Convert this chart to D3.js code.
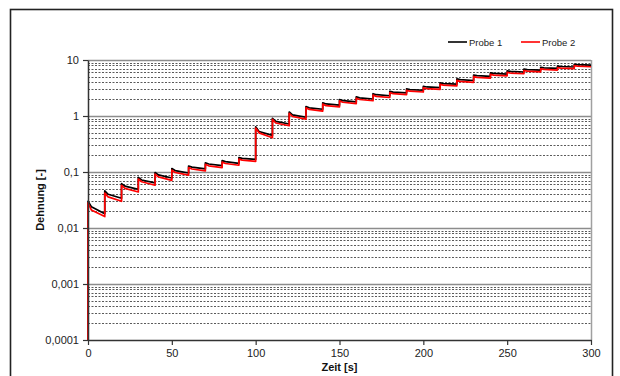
<!DOCTYPE html>
<html>
<head>
<meta charset="utf-8">
<script src="https://cdn.jsdelivr.net/npm/d3@7"></script>
<style>
  html, body { margin: 0; padding: 0; background: #fff; }
  svg { display: block; font-family: "Liberation Sans", Arial, sans-serif; }
</style>
</head>
<body>
<svg id="chart"></svg>
<script>
// Zeitpunkte (Sprung, +2 s, Ende der Stufe)
const zeit = [0,
  0, 2, 10, 10, 12, 20, 20, 22, 30, 30, 32, 40, 40, 42, 50,
  50, 52, 60, 60, 62, 70, 70, 72, 80, 80, 82, 90, 90, 92, 100,
  100, 102, 110, 110, 112, 120, 120, 122, 130, 130, 132, 140, 140, 142, 150,
  150, 152, 160, 160, 162, 170, 170, 172, 180, 180, 182, 190, 190, 192, 200,
  200, 202, 210, 210, 212, 220, 220, 222, 230, 230, 232, 240, 240, 242, 250,
  250, 252, 260, 260, 262, 270, 270, 272, 280, 280, 282, 290, 290, 292, 300];

const probe1 = [0.0001,
  0.030, 0.024, 0.018, 0.046, 0.040, 0.034, 0.062, 0.056, 0.049,
  0.080, 0.072, 0.064, 0.098, 0.089, 0.078,
  0.115, 0.106, 0.096, 0.128, 0.122, 0.114, 0.146, 0.139, 0.130,
  0.160, 0.153, 0.143, 0.180, 0.175, 0.168,
  0.64, 0.53, 0.45, 0.91, 0.80, 0.72, 1.18, 1.05, 0.95,
  1.47, 1.40, 1.32, 1.72, 1.64, 1.56,
  1.97, 1.88, 1.79, 2.20, 2.11, 2.01, 2.50, 2.40, 2.30,
  2.76, 2.67, 2.58, 3.05, 2.96, 2.88,
  3.40, 3.30, 3.20, 3.90, 3.80, 3.70, 4.60, 4.45, 4.30,
  5.40, 5.25, 5.10, 5.90, 5.75, 5.60,
  6.40, 6.25, 6.10, 6.90, 6.75, 6.60, 7.40, 7.25, 7.10,
  7.80, 7.65, 7.50, 8.40, 8.25, 8.10];

const probe2 = [0.0001,
  0.028, 0.021, 0.016, 0.042, 0.036, 0.030, 0.058, 0.051, 0.044,
  0.075, 0.067, 0.058, 0.092, 0.082, 0.071,
  0.108, 0.098, 0.088, 0.120, 0.113, 0.105, 0.137, 0.129, 0.120,
  0.150, 0.142, 0.132, 0.170, 0.163, 0.155,
  0.61, 0.50, 0.41, 0.87, 0.75, 0.67, 1.12, 0.98, 0.88,
  1.40, 1.31, 1.22, 1.63, 1.53, 1.45,
  1.86, 1.76, 1.66, 2.08, 1.97, 1.87, 2.36, 2.24, 2.14,
  2.61, 2.50, 2.40, 2.88, 2.77, 2.68,
  3.20, 3.08, 2.98, 3.68, 3.55, 3.45, 4.32, 4.15, 4.00,
  5.08, 4.90, 4.75, 5.55, 5.38, 5.22,
  6.02, 5.85, 5.68, 6.50, 6.32, 6.15, 6.98, 6.80, 6.62,
  7.35, 7.18, 7.00, 7.95, 7.75, 7.58];

const xTicks = [0, 50, 100, 150, 200, 250, 300];
const yTicks = [0.0001, 0.001, 0.01, 0.1, 1, 10];
const yTickLabels = ["0,0001", "0,001", "0,01", "0,1", "1", "10"];
const serien = [
  { name: "Probe 1", values: probe1, color: "#000000" },
  { name: "Probe 2", values: probe2, color: "#ff0000" }
];

const width = 620;
const height = 376;
const plot = { left: 88, right: 591, top: 60, bottom: 340 };

const svg = d3.select("#chart").attr("width", width).attr("height", height);

// outer frame
svg.append("rect")
  .attr("x", 10.5).attr("y", 9.5)
  .attr("width", 602).attr("height", 380)
  .attr("fill", "#fff")
  .attr("stroke", "#222")
  .attr("stroke-width", 1.6);

const x = d3.scaleLinear().domain([0, 300]).range([plot.left, plot.right]);
const y = d3.scaleLog().domain([0.0001, 10]).range([plot.bottom, plot.top]);

// gridlines: minor dashed, major solid
const allTicks = y.ticks();
const minor = allTicks.filter((d) => !yTicks.includes(d));

svg.append("g")
  .selectAll("line")
  .data(minor)
  .join("line")
  .attr("x1", plot.left).attr("x2", plot.right)
  .attr("y1", (d) => Math.round(y(d)) + 0.5)
  .attr("y2", (d) => Math.round(y(d)) + 0.5)
  .attr("stroke", "#5a5a5a")
  .attr("stroke-width", 1)
  .attr("stroke-dasharray", "2,1.5");

svg.append("g")
  .selectAll("line")
  .data(yTicks.slice(1))
  .join("line")
  .attr("x1", plot.left).attr("x2", plot.right)
  .attr("y1", (d) => Math.round(y(d)) + 0.5)
  .attr("y2", (d) => Math.round(y(d)) + 0.5)
  .attr("stroke", "#8c8c8c")
  .attr("stroke-width", 1.5);

// right edge of plot area
svg.append("line")
  .attr("x1", plot.right + 0.5).attr("x2", plot.right + 0.5)
  .attr("y1", plot.top).attr("y2", plot.bottom)
  .attr("stroke", "#a0a0a0")
  .attr("stroke-width", 1.5);

// data lines
const line = d3.line()
  .x((d) => x(d[0]))
  .y((d) => y(d[1]));

svg.append("g")
  .selectAll("path")
  .data(serien)
  .join("path")
  .attr("d", (s) => line(zeit.map((t, i) => [t, s.values[i]])))
  .attr("fill", "none")
  .attr("stroke", (s) => s.color)
  .attr("stroke-width", 1.7)
  .attr("stroke-linejoin", "round");

// axes
const xAxis = svg.append("g")
  .attr("transform", `translate(0,${plot.bottom})`)
  .call(d3.axisBottom(x).tickValues(xTicks).tickSize(5).tickSizeOuter(0).tickPadding(4));

const yAxis = svg.append("g")
  .attr("transform", `translate(${plot.left},0)`)
  .call(d3.axisLeft(y).tickValues(yTicks).tickSize(5).tickSizeOuter(0).tickPadding(4)
    .tickFormat((d, i) => yTickLabels[i]));

[xAxis, yAxis].forEach((a) => {
  a.select(".domain").attr("stroke", "#333").attr("stroke-width", 1.5);
  a.selectAll(".tick line").attr("stroke", "#333").attr("stroke-width", 1.2);
  a.selectAll(".tick text")
    .attr("fill", "#222")
    .style("font-size", "11px")
    .style("font-family", "'Liberation Sans', Arial, sans-serif");
});

// axis titles
svg.append("text")
  .attr("x", x(150)).attr("y", 371)
  .attr("text-anchor", "middle")
  .style("font-size", "11px")
  .style("font-weight", "bold")
  .attr("fill", "#111")
  .text("Zeit [s]");

svg.append("text")
  .attr("transform", `translate(44,${y(0.01) - 28}) rotate(-90)`)
  .attr("text-anchor", "middle")
  .style("font-size", "11px")
  .style("font-weight", "bold")
  .attr("fill", "#111")
  .text("Dehnung [-]");

// legend
const legend = svg.append("g").attr("transform", "translate(448,42)");
const item = legend.selectAll("g")
  .data(serien)
  .join("g")
  .attr("transform", (d, i) => `translate(${i * 73},0)`);

item.append("line")
  .attr("x1", 0).attr("x2", 19)
  .attr("stroke", (d) => d.color)
  .attr("stroke-width", 1.6);

item.append("text")
  .attr("x", 21).attr("y", 3.5)
  .style("font-size", "9.5px")
  .attr("fill", "#222")
  .text((d) => d.name);
</script>
</body>
</html>
